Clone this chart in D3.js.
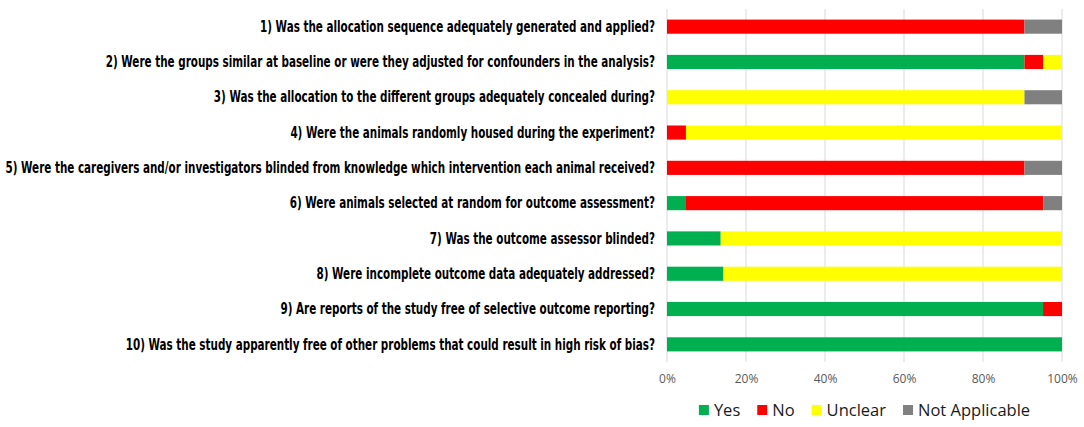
<!DOCTYPE html>
<html>
<head>
<meta charset="utf-8">
<script src="https://cdn.jsdelivr.net/npm/d3@7"></script>
<style>
  body { margin: 0; background: #fff; }
  svg { display: block; }
</style>
</head>
<body>
<svg id="chart" width="1084" height="427"></svg>
<script>
// questions (y categories)
const questions = [
  "1) Was the allocation sequence adequately generated and applied?",
  "2) Were the groups similar at baseline or were they adjusted for confounders in the analysis?",
  "3) Was the allocation to the different groups adequately concealed during?",
  "4) Were the animals randomly housed during the experiment?",
  "5) Were the caregivers and/or investigators blinded from knowledge which intervention each animal received?",
  "6) Were animals selected at random for outcome assessment?",
  "7) Was the outcome assessor blinded?",
  "8) Were incomplete outcome data adequately addressed?",
  "9) Are reports of the study free of selective outcome reporting?",
  "10) Was the study apparently free of other problems that could result in high risk of bias?"
];

const seriesNames = ["Yes", "No", "Unclear", "Not Applicable"];

// percentages, one per question
const yesVals     = [0,    90.5, 0,    0,    0,    4.8,  13.6, 14.3, 95.2, 100];
const noVals      = [90.5, 4.8,  0,    4.8,  90.5, 90.5, 0,    0,    4.8,  0];
const unclearVals = [0,    4.7,  90.5, 95.2, 0,    0,    86.4, 85.7, 0,    0];
const naVals      = [9.5,  0,    9.5,  0,    9.5,  4.7,  0,    0,    0,    0];

const xTicks = [0, 20, 40, 60, 80, 100];

const colors = ["#00B050", "#FF0000", "#FFFF00", "#808080"];

const svg = d3.select("#chart");
const margin = { left: 667, right: 22, top: 9, bottom: 65 };
const W = 1084, H = 427;

const rows = questions.map((q, i) => ({
  q,
  "Yes": yesVals[i],
  "No": noVals[i],
  "Unclear": unclearVals[i],
  "Not Applicable": naVals[i]
}));

const x = d3.scaleLinear().domain([0, 100]).range([margin.left, W - margin.right]);
const y = d3.scaleBand().domain(questions).range([margin.top, H - margin.bottom])
  .paddingInner(0.6).paddingOuter(0.3);

// gridlines
svg.append("g")
  .selectAll("line")
  .data(xTicks)
  .join("line")
  .attr("x1", d => x(d)).attr("x2", d => x(d))
  .attr("y1", margin.top).attr("y2", H - margin.bottom)
  .attr("stroke", "#D9D9D9")
  .attr("stroke-width", 1);

// stacked bars
const stack = d3.stack().keys(seriesNames)(rows);
svg.append("g")
  .selectAll("g")
  .data(stack)
  .join("g")
  .attr("fill", (d, i) => colors[i])
  .selectAll("rect")
  .data(d => d)
  .join("rect")
  .attr("x", d => x(d[0]))
  .attr("y", d => y(d.data.q))
  .attr("width", d => Math.max(0, x(d[1]) - x(d[0])))
  .attr("height", y.bandwidth());

// x axis labels
const xAxis = svg.append("g")
  .attr("transform", `translate(0,${H - margin.bottom + 4})`)
  .call(d3.axisBottom(x).tickValues(xTicks).tickFormat(d => d + "%").tickSize(0).tickPadding(8));
xAxis.select(".domain").remove();
xAxis.selectAll("text")
  .attr("fill", "#595959")
  .style("font-family", "'Open Sans', 'Noto Sans', sans-serif")
  .style("font-size", "12px");

// question labels
const labelG = svg.append("g");
labelG.selectAll("text")
  .data(questions)
  .join("text")
  .attr("x", margin.left - 12)
  .attr("y", d => y(d) + y.bandwidth() / 2)
  .attr("dy", "0.35em")
  .attr("text-anchor", "end")
  .attr("fill", "#000")
  .style("font-family", "'Liberation Sans Narrow', 'DejaVu Sans Condensed', 'Roboto', sans-serif")
  .style("font-weight", "bold")
  .style("font-size", "15px")
  .text(d => d);

// squeeze labels so the longest one spans like the reference
const targetW = 650;
let maxW = 0;
labelG.selectAll("text").each(function () { maxW = Math.max(maxW, this.getComputedTextLength()); });
if (maxW > 0) {
  const k = targetW / maxW;
  const ax = margin.left - 12;
  labelG.attr("transform", `translate(${ax},0) scale(${k},1) translate(${-ax},0)`);
}

// legend
const legend = svg.append("g");
const legendY = 410;
const items = legend.selectAll("g")
  .data(seriesNames)
  .join("g");
items.append("rect")
  .attr("width", 10).attr("height", 10)
  .attr("y", legendY - 5)
  .attr("fill", (d, i) => colors[i]);
items.append("text")
  .attr("x", 15)
  .attr("y", legendY)
  .attr("dy", "0.36em")
  .attr("fill", "#1a1a1a")
  .style("font-family", "'Open Sans', 'Noto Sans', sans-serif")
  .style("font-size", "16.5px")
  .text(d => d);

let offset = 0;
const offsets = [];
items.each(function () {
  offsets.push(offset);
  const tw = d3.select(this).select("text").node().getComputedTextLength();
  offset += 15 + tw + 17;
});
const total = offset - 17;
const startX = (x(0) + x(100)) / 2 - total / 2;
items.attr("transform", (d, i) => `translate(${startX + offsets[i]},0)`);
</script>
</body>
</html>
